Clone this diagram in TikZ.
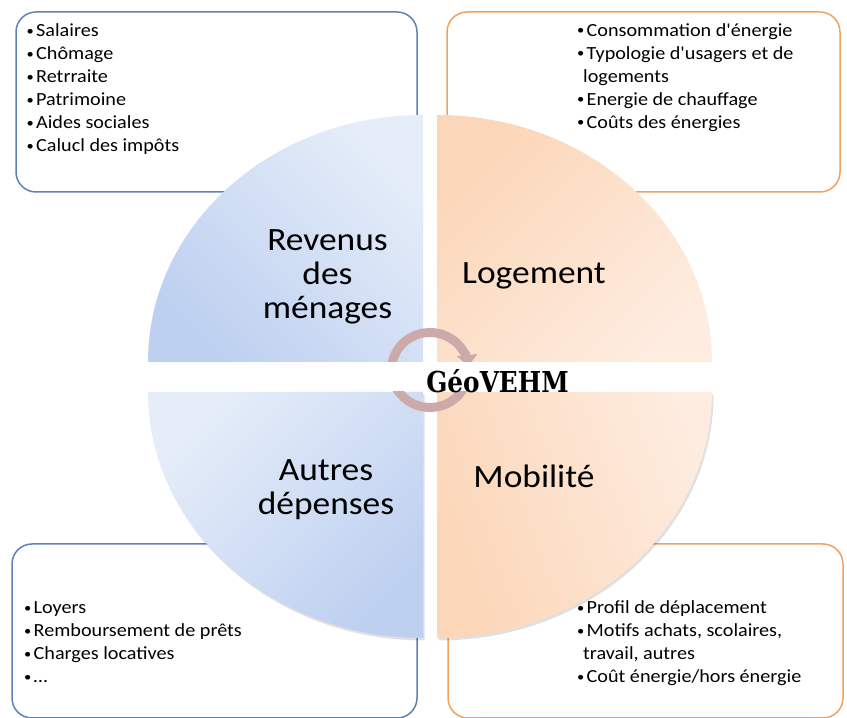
\documentclass[tikz,border=0pt]{standalone}
\usepackage{fontspec}
\setmainfont{Carlito}[FakeStretch=1.09, Ligatures=TeXOff]
\newfontfamily\titlefont{DejaVu Serif}[FakeStretch=0.86]
\usetikzlibrary{arrows.meta}

\definecolor{boxblue}{RGB}{95,128,184}
\definecolor{boxorange}{RGB}{242,162,96}
\definecolor{bluelight}{RGB}{229,237,249}
\definecolor{bluedark}{RGB}{190,208,240}
\definecolor{orangedark}{RGB}{252,214,184}
\definecolor{orangelight}{RGB}{253,236,223}
\definecolor{cyclecol}{RGB}{203,170,169}

\newcommand\itemdot{\makebox[9.5pt][l]{\raisebox{1.4pt}{\scalebox{0.72}{•}}}}

\begin{document}
\begin{tikzpicture}[x=1pt,y=1pt,
  panel/.style={draw, line width=1.5pt, rounded corners=20pt, fill=white, inner sep=0pt},
  bluepanel/.style={panel, draw=boxblue},
  orangepanel/.style={panel, draw=boxorange},
  itemlist/.style={anchor=north west, inner sep=0pt, align=left,
                   font=\fontsize{18.5}{23}\selectfont},
  sector/.style={inner sep=0pt, align=center, font=\fontsize{32.5}{34}\selectfont},
  cyclearrow/.style={draw=cyclecol, line width=9pt,
                     -{Triangle[length=11pt,width=20pt]}},
  sectorshadow/.style={fill=black, opacity=0.12},
]
\useasboundingbox (0,0) rectangle (847,718);
\fill[white] (0,0) rectangle (847,718);

% corner panels
\node[bluepanel,   minimum width=401pt, minimum height=180pt] (boxtl) at (216.5,616) {};
\node[orangepanel, minimum width=393pt, minimum height=180pt] (boxtr) at (643.5,616) {};
\node[bluepanel,   minimum width=405pt, minimum height=174pt] (boxbl) at (214.5,87) {};
\node[orangepanel, minimum width=395pt, minimum height=174pt] (boxbr) at (645.5,87) {};

% soft shadows under the lower sectors
\fill[sectorshadow] (424.5,323.5) -- (149.5,323.5)
  arc[start angle=180, end angle=270, x radius=275, y radius=246] -- cycle;
\fill[sectorshadow] (438.5,323.5) -- (438.5,77.5)
  arc[start angle=270, end angle=360, x radius=275, y radius=246] -- cycle;

% four sectors of the wheel
\shade[top color=bluelight, bottom color=bluedark, shading angle=-45]
  (423,356) -- (148,356) arc[start angle=180, end angle=90, x radius=275, y radius=247] -- cycle;
\shade[top color=orangedark, bottom color=orangelight, shading angle=45]
  (437,356) -- (437,603) arc[start angle=90, end angle=0, x radius=275, y radius=247] -- cycle;
\shade[top color=bluelight, bottom color=bluedark, shading angle=45]
  (423,326) -- (148,326) arc[start angle=180, end angle=270, x radius=275, y radius=246] -- cycle;
\shade[top color=orangedark, bottom color=orangelight, shading angle=110]
  (437,326) -- (437,80) arc[start angle=270, end angle=360, x radius=275, y radius=246] -- cycle;

% item lists
\node[itemlist] (listtl) at (26.5,697.4)
  {\strut\itemdot Salaires\\ \itemdot Chômage\\ \itemdot Retrraite\\
   \itemdot Patrimoine\\ \itemdot Aides sociales\\ \itemdot Calucl des impôts};
\node[itemlist] (listtr) at (577,698.1)
  {\strut\itemdot Consommation d'énergie\\ \itemdot Typologie d'usagers et de\\
   \hspace*{6pt}logements\\ \itemdot Energie de chauffage\\ \itemdot Coûts des énergies};
\node[itemlist] (listbl) at (24,120.6)
  {\strut\itemdot Loyers\\ \itemdot Remboursement de prêts\\ \itemdot Charges locatives\\
   \itemdot …};
\node[itemlist] (listbr) at (577,120.6)
  {\strut\itemdot Profil de déplacement\\ \itemdot Motifs achats, scolaires,\\
   \hspace*{6pt}travail, autres\\ \itemdot Coût énergie/hors énergie};

% sector titles
\node[sector, anchor=north] (lblrev) at (327.5,491.8) {\strut Revenus\\des\\ménages};
\node[sector, anchor=base]  (lbllog) at (534,434.7) {Logement};
\node[sector, anchor=north] (lblaut) at (326,261.8) {\strut Autres\\dépenses};
\node[sector, anchor=base]  (lblmob) at (534,230) {Mobilité};

% circular arrows at the hub
\coordinate (hub) at (430,348);
\begin{scope}
  \clip (300,356) rectangle (560,430);
  \draw[cyclearrow] ([shift={(190:38.5 and 37.5)}]hub)
    arc[start angle=190, end angle=6, x radius=38.5, y radius=37.5];
\end{scope}
\begin{scope}
  \clip (300,260) rectangle (560,326);
  \draw[cyclearrow] ([shift={(10:38.5 and 37.5)}]hub)
    arc[start angle=10, end angle=-174, x radius=38.5, y radius=37.5];
\end{scope}

\node[font=\titlefont\fontsize{28.8}{30}\selectfont\bfseries, anchor=base, inner sep=0pt]
  (hubtitle) at (497.5,325.3) {GéoVEHM};
\end{tikzpicture}
\end{document}
